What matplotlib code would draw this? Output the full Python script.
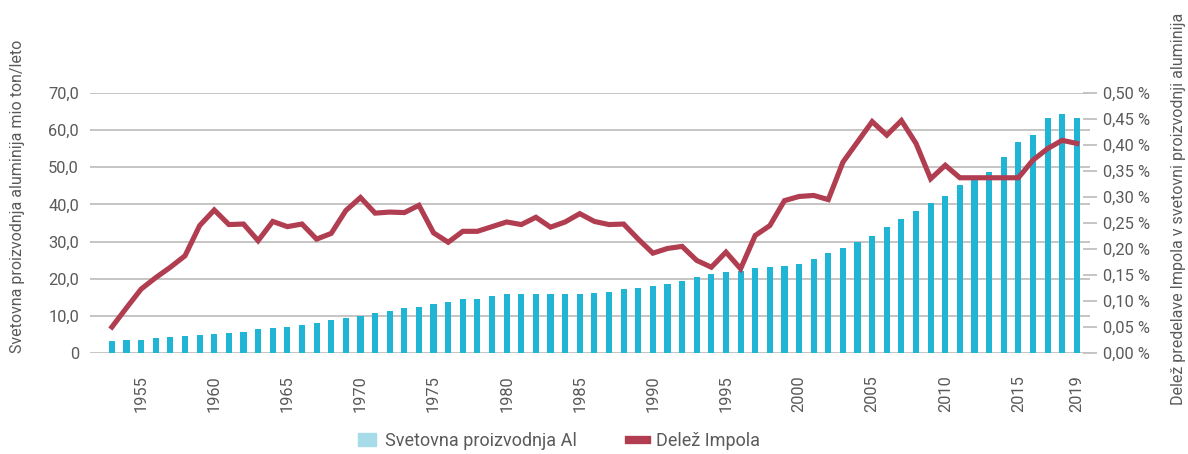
import numpy as np
import matplotlib.pyplot as plt
from matplotlib.patches import Patch
from matplotlib.lines import Line2D

years = np.arange(1953, 2020)

# world aluminium production, mio t / year
production = [3.2, 3.5, 3.5, 4.0, 4.4, 4.7, 4.9, 5.1, 5.4, 5.7,
              6.5, 6.8, 7.0, 7.6, 8.1, 8.9, 9.5, 10.0, 10.8, 11.4,
              12.0, 12.5, 13.2, 13.8, 14.6, 14.6, 15.4, 15.9, 15.9, 15.9,
              15.9, 15.9, 15.9, 16.2, 16.5, 17.3, 17.6, 18.1, 18.6, 19.5,
              20.5, 21.3, 21.9, 22.1, 22.9, 23.2, 23.5, 24.0, 25.4, 27.0,
              28.4, 30.0, 31.6, 33.8, 36.0, 38.1, 40.3, 42.2, 45.1, 47.0,
              48.6, 52.9, 56.7, 58.6, 63.2, 64.3, 63.2]

# Impol share, %
share = [0.050, 0.087, 0.123, 0.145, 0.165, 0.187, 0.245, 0.275, 0.247, 0.248,
         0.216, 0.253, 0.243, 0.248, 0.219, 0.230, 0.274, 0.299, 0.269, 0.271,
         0.270, 0.284, 0.231, 0.213, 0.234, 0.234, 0.243, 0.252, 0.247, 0.261,
         0.242, 0.252, 0.268, 0.253, 0.247, 0.248, 0.219, 0.192, 0.201, 0.205,
         0.178, 0.165, 0.194, 0.162, 0.226, 0.245, 0.293, 0.301, 0.303, 0.295,
         0.367, 0.406, 0.445, 0.419, 0.447, 0.403, 0.335, 0.361, 0.337, 0.337,
         0.337, 0.337, 0.337, 0.371, 0.393, 0.409, 0.403]

xtick_years = [1955, 1960, 1965, 1970, 1975, 1980, 1985, 1990, 1995,
               2000, 2005, 2010, 2015, 2019]

bar_col = '#21b5d5'
line_col = '#b03d50'
grid_col = '#c3bfbf'
txt_col = '#5a5a5a'

plt.rcParams['font.family'] = ['Roboto', 'DejaVu Sans']

fig = plt.figure(figsize=(11.88, 4.54), dpi=100)
ax = fig.add_axes([90 / 1188, 1 - 353 / 454, 1000 / 1188, 260 / 454])
ax2 = ax.twinx()

ax.bar(years, production, width=0.42, color=bar_col, zorder=2)
ax2.plot(years, share, color=line_col, lw=3.7, solid_joinstyle='miter', zorder=3)

ax.set_xlim(1951.5, 2019.9)
ax.set_ylim(0, 70)
ax2.set_ylim(0, 0.5)

ax.set_yticks(np.arange(0, 71, 10))
ax.set_yticklabels(['0'] + ['%d,0' % v for v in range(10, 71, 10)])
ax.yaxis.grid(True, color=grid_col, lw=1.3, zorder=0)
ax.set_axisbelow(True)
ax.tick_params(axis='y', length=0, pad=8, labelsize=11.8, labelcolor=txt_col)

ax.set_xticks(xtick_years)
ax.set_xticklabels([str(y) for y in xtick_years], rotation=90)
ax.tick_params(axis='x', length=0, pad=16, labelsize=11.8, labelcolor=txt_col)

ax2.set_yticks(np.arange(0, 0.51, 0.05))
ax2.set_yticklabels([('%.2f %%' % v).replace('.', ',') for v in np.arange(0, 0.51, 0.05)])
ax2.tick_params(axis='y', direction='inout', length=10, width=1.3, color=grid_col,
                pad=4, labelsize=11.8, labelcolor=txt_col)

for a in (ax, ax2):
    for s in a.spines.values():
        s.set_visible(False)

fig.text(18 / 1188, 1 - 196 / 454, 'Svetovna proizvodnja aluminija mio ton/leto',
         rotation=90, ha='center', va='center', fontsize=11.5, color=txt_col)
fig.text(1179 / 1188, 1 - 209 / 454,
         'Delež predelave Impola v svetovni proizvodnji aluminija',
         rotation=90, ha='center', va='center', fontsize=11.5, color=txt_col)

handles = [Patch(color='#a8dbe9'), Line2D([], [], color=line_col, lw=6)]
fig.legend(handles, ['Svetovna proizvodnja Al', 'Delež Impola'], loc='center',
           bbox_to_anchor=(559 / 1188, 1 - 441 / 454), ncol=2, frameon=False,
           fontsize=13, labelcolor=txt_col, handlelength=1.0, handleheight=0.7,
           columnspacing=2.9, handletextpad=0.5)

fig.savefig('out.png', dpi=100)
